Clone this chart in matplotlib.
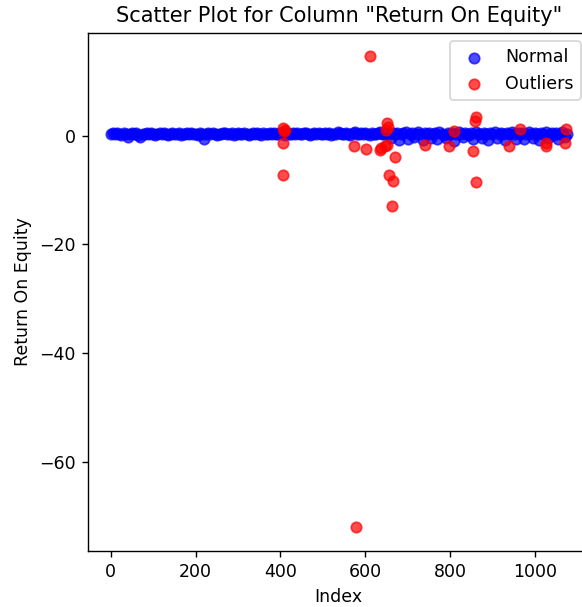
import numpy as np
import matplotlib
matplotlib.use('Agg')
import matplotlib.pyplot as plt

column = 'Return On Equity'

# normal rows, one value per 5th index (0, 5, 10, ...)
normal_vals = [
    0.3, 0.4, 0.2, 0.5, 0.3, 0.1, 0.4, 0.2, -0.2, 0.3,
    0.5, 0.2, 0.4, 0.1, -0.3, 0.3, 0.2, 0.5, 0.3, 0.4,
    0.2, 0.1, 0.3, 0.5, 0.2, 0.4, 0.3, 0.1, 0.2, 0.5,
    0.3, 0.2, 0.4, 0.1, 0.3, 0.2, 0.4, 0.3, 0.5, 0.2,
    0.3, 0.1, 0.4, 0.2, -0.6, 0.3, 0.5, 0.2, 0.4, 0.3,
    0.1, 0.3, 0.2, 0.4, 0.5, 0.3, 0.2, 0.4, 0.1, 0.3,
    0.5, 0.2, 0.3, 0.4, 0.2, 0.1, 0.3, 0.5, 0.2, 0.4,
    0.3, 0.1, 0.4, 0.2, 0.3, 0.5, 0.2, 0.4, 0.3, 0.2,
    0.5, 0.3, 0.1, 0.4, 0.2, 0.3, 0.5, 0.2, 0.4, 0.3,
    0.2, 0.4, 0.5, 0.3, 0.1, 0.3, 0.5, 0.2, 0.4, 0.3,
    0.2, 0.5, 0.3, 0.4, 0.1, 0.3, 0.2, 0.6, 0.4, 0.3,
    0.2, 0.5, 0.3, 0.1, 0.4, 0.6, 0.2, 0.3, 0.5, 0.2,
    0.4, 0.3, 0.1, 0.5, 0.3, 0.2, 0.4, 0.6, 0.3, 0.2,
    0.5, 0.3, -0.4, 0.4, 0.2, 0.5, -0.8, 0.3, 0.4, 0.6,
    -0.6, 0.2, 0.5, -0.3, 0.3, 0.6, 0.2, -0.9, 0.4, 0.3,
    0.5, -0.4, 0.2, 0.4, -0.7, 0.6, 0.3, 0.1, -0.5, 0.5,
    0.2, 0.4, -1.0, 0.3, 0.6, 0.2, -0.3, 0.5, 0.3, 0.1,
    0.4, -0.6, 0.6, 0.2, 0.3, -0.4, 0.5, 0.2, -0.8, 0.4,
    0.3, 0.6, -0.5, 0.2, 0.5, 0.3, -0.9, 0.4, 0.2, 0.6,
    0.3, -0.6, 0.5, 0.2, 0.4, -0.7, 0.3, 0.6, 0.2, -0.4,
    0.4, 0.3, -0.9, 0.5, 0.2, 0.6, -0.5, 0.3, 0.4, 0.1,
    0.5, -0.6, 0.3, 0.6, -0.3, 0.2,
]
normal_idx = np.arange(len(normal_vals)) * 5

# rows flagged as outliers
outlier_idx = [405, 408, 410, 406, 407, 573, 578, 602, 612, 634, 638, 646,
               650, 651, 652, 654, 656, 664, 665, 669, 740, 798, 809, 853,
               858, 860, 861, 939, 965, 1026, 1027, 1071, 1073]
outlier_vals = [1.3, 0.9, 1.1, -1.4, -7.2, -1.9, -72.1, -2.5, 14.6, -2.6, -2.3, -2.0,
                1.0, -1.7, 2.3, 1.6, -7.2, -12.9, -8.3, -3.9, -1.7, -1.9, 0.9, -2.9,
                2.6, 3.4, -8.5, -2.0, 1.2, -1.4, -1.9, -1.4, 1.2]

fig = plt.figure(figsize=(4.656, 4.856), dpi=125)
ax = fig.add_axes([0.1512, 0.0923, 0.8617, 0.8539])
ax.scatter(normal_idx, normal_vals, color='blue', alpha=0.7, label='Normal')
ax.scatter(outlier_idx, outlier_vals, color='red', alpha=0.7, label='Outliers')
ax.set_title(f'Scatter Plot for Column "{column}"')
ax.set_xlabel('Index')
ax.set_ylabel(column)
ax.legend(loc='upper right')
fig.savefig('out.png', dpi=125)
